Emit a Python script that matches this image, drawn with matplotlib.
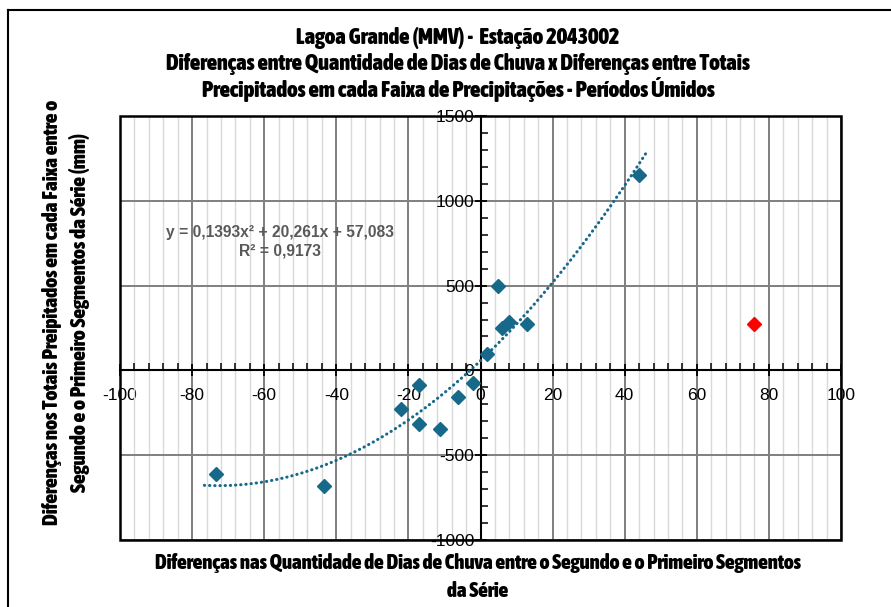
import numpy as np
import matplotlib
matplotlib.use("Agg")
import matplotlib.pyplot as plt
from matplotlib import font_manager, patheffects
from matplotlib.ticker import MultipleLocator, FixedLocator
from matplotlib.patches import Rectangle
from matplotlib.lines import Line2D

# data
dias_diff = [-73.4, -43.3, -22.1, -17.1, -17.1, -11.3, -6.2, -2.2, 1.7, 4.95, 5.9, 7.9, 12.85, 44.1]
totais_diff = [-609, -680, -226, -86, -314, -347, -156, -74, 96, 498, 248, 283, 272, 1152]
outlier_x = [76.0]
outlier_y = [272]

# polynomial trendline as printed on the chart
trend_coef = [0.1393, 20.261, 57.083]
trend_range = (-76.6, 46.5)

x_ticks = [-100, -80, -60, -40, -20, 0, 20, 40, 60, 80, 100]
y_ticks = [-1000, -500, 0, 500, 1000, 1500]

titles = [
    "Lagoa Grande (MMV) -  Estação 2043002",
    "Diferenças entre Quantidade de Dias de Chuva x Diferenças entre Totais",
    "Precipitados em cada Faixa de Precipitações - Períodos Úmidos",
]
xlabel = "Diferenças nas Quantidade de Dias de Chuva entre o Segundo e o Primeiro Segmentos\nda Série"
ylabel = "Diferenças nos Totais Preipitados em cada Faixa entre o\nSegundo e o Primeiro Segmentos da Série (mm)"
eq_lines = ["y = 0,1393x² + 20,261x + 57,083", "R² = 0,9173"]

# pick a narrow bold face if there is one
narrow_bold, narrow_reg = None, None
for f in font_manager.fontManager.ttflist:
    if "Narrow" in f.name or "Condensed" in f.name:
        w = f.weight if isinstance(f.weight, int) else 700 if "bold" in str(f.weight) else 400
        if w >= 600 and f.style == "normal" and narrow_bold is None:
            narrow_bold = f.fname
        elif w < 600 and f.style == "normal" and narrow_reg is None:
            narrow_reg = f.fname

fake_bold = []
if narrow_bold:
    bold_fp = dict(fname=narrow_bold)
elif narrow_reg:
    bold_fp = dict(fname=narrow_reg)
    fake_bold = [patheffects.withStroke(linewidth=0.5, foreground="black")]
else:
    bold_fp = dict(family="Liberation Sans", weight="bold")


def fp(size, props=None):
    return font_manager.FontProperties(size=size, **(props or bold_fp))


eq_props = dict(family="Liberation Sans", weight="bold")
font_ticks = ["Liberation Sans", "DejaVu Sans"]
teal = "#17698A"

fig = plt.figure(figsize=(8.91, 6.07), dpi=100)
ax = fig.add_axes([120 / 891, 1 - 540 / 607, 721 / 891, 424 / 607])

ax.set_xlim(-100, 100)
ax.set_ylim(-1000, 1500)

ax.xaxis.set_major_locator(FixedLocator(x_ticks))
ax.yaxis.set_major_locator(FixedLocator(y_ticks))
ax.xaxis.set_minor_locator(MultipleLocator(4))
ax.yaxis.set_minor_locator(MultipleLocator(100))
ax.grid(which="major", color="#7f7f7f", linewidth=1.4, zorder=0)
ax.grid(which="minor", axis="x", color="#d9d9d9", linewidth=1.0, zorder=0)
ax.set_axisbelow(True)

# axes crossing at zero, plus the plot-area box
ax.spines["left"].set_position(("data", 0))
ax.spines["bottom"].set_position(("data", 0))
ax.spines["top"].set_visible(False)
ax.spines["right"].set_visible(False)
for s in ["left", "bottom"]:
    ax.spines[s].set_linewidth(1.5)
    ax.spines[s].set_zorder(2)
ax.add_patch(Rectangle((0, 0), 1, 1, transform=ax.transAxes, fill=False,
                       edgecolor="black", linewidth=1.8, zorder=3, clip_on=False))

ax.tick_params(which="major", direction="inout", length=9, width=1.3, color="black")
ax.tick_params(which="minor", direction="in", length=5, width=1.1, color="black")
ax.tick_params(axis="x", which="major", pad=8)
ax.tick_params(axis="y", which="major", pad=0)
ax.set_xticklabels([str(v) for v in x_ticks], fontfamily=font_ticks, fontsize=12.5)
ax.set_yticklabels([str(v) for v in y_ticks], fontfamily=font_ticks, fontsize=12.5)

# trendline
tx = np.linspace(trend_range[0], trend_range[1], 200)
ty = np.polyval(trend_coef, tx)
ax.plot(tx, ty, color=teal, linewidth=2.2, linestyle=(0, (0.1, 1.6)),
        dash_capstyle="round", zorder=4)

ax.plot(dias_diff, totais_diff, linestyle="none", marker="D", markersize=7.5,
        color=teal, zorder=5)
ax.plot(outlier_x, outlier_y, linestyle="none", marker="D", markersize=7.5,
        color="#FF0000", zorder=5)

renderer = fig.canvas.get_renderer()


def fit_size(text, target_px, props=None, rotated=False, size0=14):
    t = fig.text(0, 0, text, fontproperties=fp(size0, props), rotation=90 if rotated else 0)
    bb = t.get_window_extent(renderer)
    t.remove()
    span = bb.height if rotated else bb.width
    return size0 * target_px / span


shrink = 0.93

s_eq = fit_size(eq_lines[0], 228, eq_props)
for i, line in enumerate(eq_lines):
    fig.text(280 / 891, 1 - (232 + 19 * i) / 607, line, ha="center", va="center",
             color="#595959", fontproperties=fp(s_eq, eq_props))

s_title = fit_size(titles[1], 627) * shrink
for i, t in enumerate(titles):
    fig.text(458 / 891, 1 - (38 + 26 * i) / 607, t, ha="center", va="center",
             fontproperties=fp(s_title), path_effects=fake_bold)

s_x = fit_size(xlabel.split("\n")[0], 696) * shrink
fig.text(478 / 891, 1 - 577 / 607, xlabel, ha="center", va="center",
         multialignment="center", linespacing=1.5,
         fontproperties=fp(s_x), path_effects=fake_bold)

s_y = fit_size(ylabel.split("\n")[0], 455, rotated=True) * shrink
fig.text(66 / 891, 1 - 312 / 607, ylabel, ha="center", va="center",
         multialignment="center", rotation=90, linespacing=1.45,
         fontproperties=fp(s_y), path_effects=fake_bold)

# chart area border (runs off the right and bottom edges)
fig.add_artist(Line2D([8 / 891, 1.0], [1 - 10 / 607, 1 - 10 / 607],
                      transform=fig.transFigure, color="black", linewidth=1.5))
fig.add_artist(Line2D([8 / 891, 8 / 891], [0.0, 1 - 10 / 607],
                      transform=fig.transFigure, color="black", linewidth=1.5))

fig.savefig("out.png", dpi=100)
